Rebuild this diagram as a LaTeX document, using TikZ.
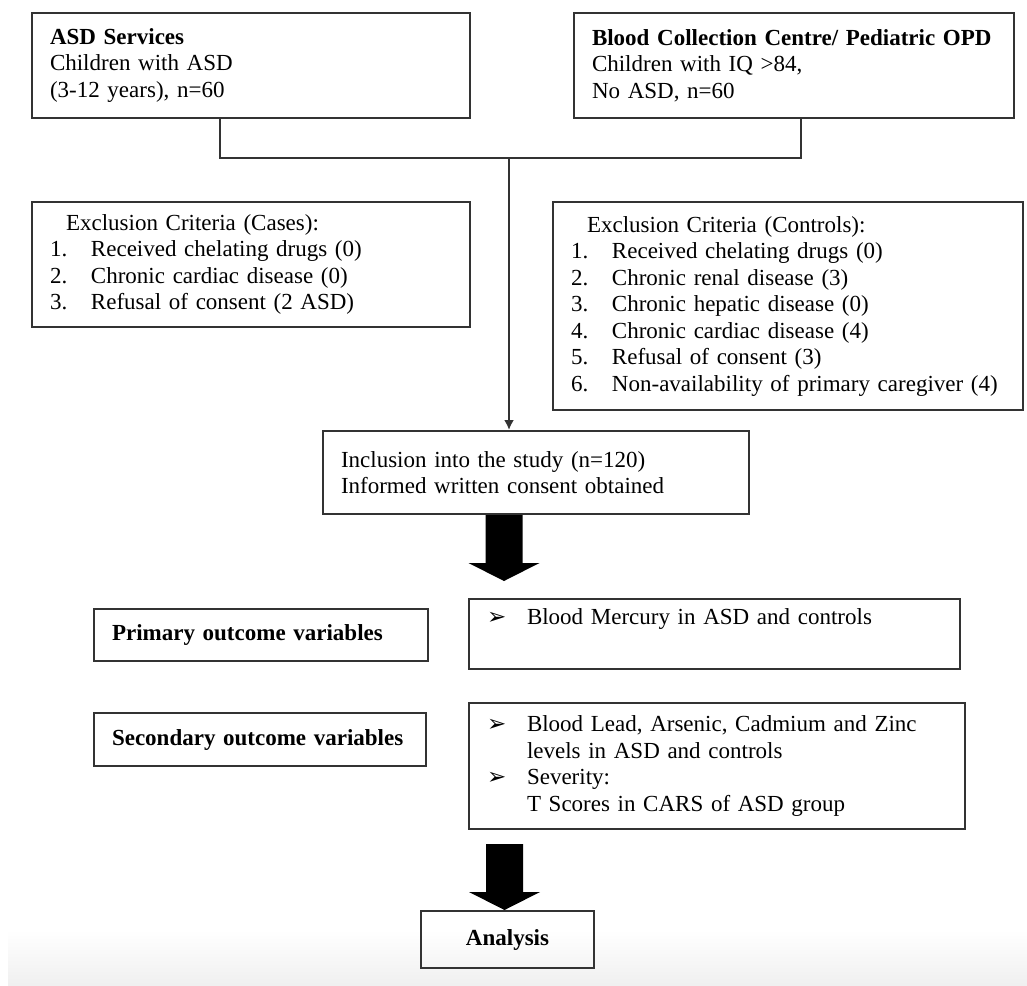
\documentclass[tikz,border=0pt]{standalone}
\usepackage{fontspec}
\setmainfont{Liberation Serif}
\newfontfamily\symf{DejaVu Sans}
\usetikzlibrary{arrows.meta,calc}

\newcommand{\itm}[2]{\makebox[20.5pt][l]{#1}#2}
\newcommand{\bul}[1]{\makebox[20pt][l]{\symf\fontsize{11.5}{13.25}\selectfont ➢}#1}

\tikzset{
  box/.style={draw=black!80, line width=1pt, anchor=north west, align=left,
    inner xsep=9pt, inner ysep=0pt, font=\fontsize{11.5}{13.25}\selectfont},
  conn/.style={draw=black!80, line width=1pt},
  fatarrow/.pic={\fill[black] (-18.5,0) -- (18.5,0) -- (18.5,48) -- (35.5,48)
    -- (0,66) -- (-35.5,48) -- (-18.5,48) -- cycle;}
}

\begin{document}
\begin{tikzpicture}[x=0.5pt,y=-0.5pt]
\useasboundingbox (0,0) rectangle (1027,985);
\shade[top color=white, bottom color=black!6] (8,930) rectangle (1027,985);

\node[box, text width=201pt, minimum height=52.5pt] (asd) at (31,12)
  {\textbf{ASD Services}\\Children with ASD\\(3-12 years), n=60};
\node[box, text width=202pt, minimum height=52.5pt] (bcc) at (573,12)
  {\textbf{Blood Collection Centre/ Pediatric OPD}\\Children with IQ >84,\\No ASD, n=60};

\node[box, text width=201pt, minimum height=62.5pt] (excases) at (31,201)
  {\hspace*{8pt}Exclusion Criteria (Cases):\\
   \itm{1.}{Received chelating drugs (0)}\\
   \itm{2.}{Chronic cardiac disease (0)}\\
   \itm{3.}{Refusal of consent (2 ASD)}};
\node[box, text width=217pt, minimum height=104pt] (excontrols) at (552,201)
  {\hspace*{8pt}Exclusion Criteria (Controls):\\
   \itm{1.}{Received chelating drugs (0)}\\
   \itm{2.}{Chronic renal disease (3)}\\
   \itm{3.}{Chronic hepatic disease (0)}\\
   \itm{4.}{Chronic cardiac disease (4)}\\
   \itm{5.}{Refusal of consent (3)}\\
   \itm{6.}{Non-availability of primary caregiver (4)}};

\node[box, text width=195pt, minimum height=41.5pt] (incl) at (322,430)
  {Inclusion into the study (n=120)\\Informed written consent obtained};

\node[box, text width=149pt, minimum height=26pt] (primlab) at (93,608)
  {\textbf{Primary outcome variables}};
\node[box, text width=227.5pt, minimum height=35pt] (primvar) at (468,598)
  {\bul{Blood Mercury in ASD and controls}\\ \strut};

\node[box, text width=148pt, minimum height=26.5pt] (seclab) at (93,712)
  {\textbf{Secondary outcome variables}};
\node[box, text width=230pt, minimum height=63pt] (secvar) at (468,702)
  {\bul{Blood Lead, Arsenic, Cadmium and Zinc}\\
   \hspace*{20pt}levels in ASD and controls\\
   \bul{Severity:}\\
   \hspace*{20pt}T Scores in CARS of ASD group};

\node[box, text width=68.5pt, minimum height=28.5pt, align=center] (ana) at (420,910)
  {\textbf{Analysis}};

\coordinate (join) at (509,158);
\draw[conn] ([xshift=-15.5pt]asd.south) |- (join) -| ([xshift=3.5pt]bcc.south);
\draw[conn, -{Latex[length=5pt,width=5pt]}] (join) -- (join |- incl.north);

\pic at ([xshift=-16pt]incl.south) {fatarrow};
\pic at ([xshift=-1.5pt,yshift=33pt]ana.north) {fatarrow};
\end{tikzpicture}
\end{document}
